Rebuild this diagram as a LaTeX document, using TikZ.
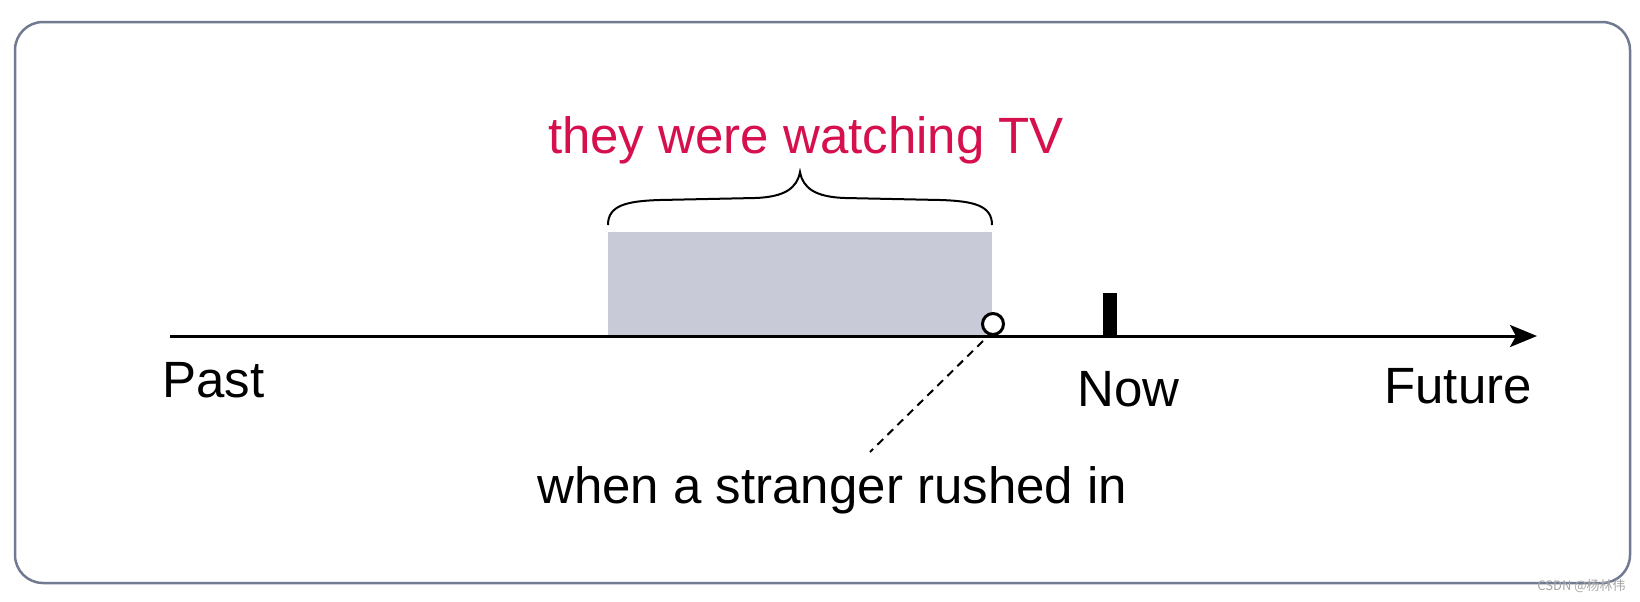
\documentclass[tikz,border=0pt]{standalone}
\usepackage{fontspec}
\setmainfont{Liberation Sans}
\newfontfamily\cjkfont{Noto Sans CJK SC}
\usetikzlibrary{arrows.meta,decorations.pathreplacing}
\definecolor{tvred}{RGB}{214,16,76}
\definecolor{framecol}{RGB}{112,122,145}
\definecolor{shadecol}{RGB}{200,203,215}
\begin{document}
\begin{tikzpicture}[x=0.5pt,y=-0.5pt,
  lbl/.style={font=\fontsize{25.5pt}{30pt}\selectfont, inner sep=0pt},
  framestyle/.style={draw=framecol, line width=1.25pt, rounded corners=14pt},
  axisline/.style={line width=1.5pt, -{Stealth[length=13.5pt, width=11pt, inset=3pt]}},
  periodbox/.style={fill=shadecol, inner sep=0pt, minimum width=192pt, minimum height=52pt},
  bracestyle/.style={line width=1pt},
  eventdot/.style={circle, draw, line width=1.5pt, fill=white, minimum size=10.5pt, inner sep=0pt},
  nowmark/.style={fill=black, inner sep=0pt, minimum width=7pt, minimum height=21.5pt},
  guide/.style={line width=1pt, dash pattern=on 4pt off 3pt}
]
\useasboundingbox (0,0) rectangle (1640,601);
% frame
\draw[framestyle] (15,22) rectangle (1630,583);
% shaded period
\node[periodbox] (tv) at (800,284) {};
% brace and its label
\coordinate (bL) at (608,225);
\coordinate (bR) at (992,225);
\coordinate (bTip) at (800,172);
\draw[bracestyle] (bL) .. controls (608,206) and (625,201) .. (660,200)
  -- (755,198) .. controls (785,197) and (797,188) .. (bTip)
  .. controls (803,188) and (815,197) .. (845,198)
  -- (940,200) .. controls (975,201) and (992,206) .. (bR);
\node[lbl, text=tvred, anchor=base] (tvlabel) at (806,153) {they were watching TV};
% time axis
\coordinate (axstart) at (170,336);
\coordinate (axend) at (1537,336);
\draw[axisline] (axstart) -- (axend);
% event circle and now marker
\node[eventdot] (evt) at (993,324) {};
\node[nowmark] (now) at (1110,314.5) {};
% labels
\node[lbl, anchor=base west] (past) at (162,397) {Past};
\node[lbl, anchor=base west] (nowlabel) at (1077,406) {Now};
\node[lbl, anchor=base west] (future) at (1384,403) {Future};
\node[lbl, anchor=base west] (when) at (537,503) {when a stranger rushed in};
% dashed guide
\coordinate (dA) at (983,341);
\coordinate (dB) at (870,452);
\draw[guide] (dA) -- (dB);
% watermark
\node[font=\cjkfont\fontsize{6.5pt}{7pt}\selectfont, text=gray!70, anchor=east, inner sep=0pt] (wm) at (1626,586) {CSDN @杨林伟};
\end{tikzpicture}
\end{document}
